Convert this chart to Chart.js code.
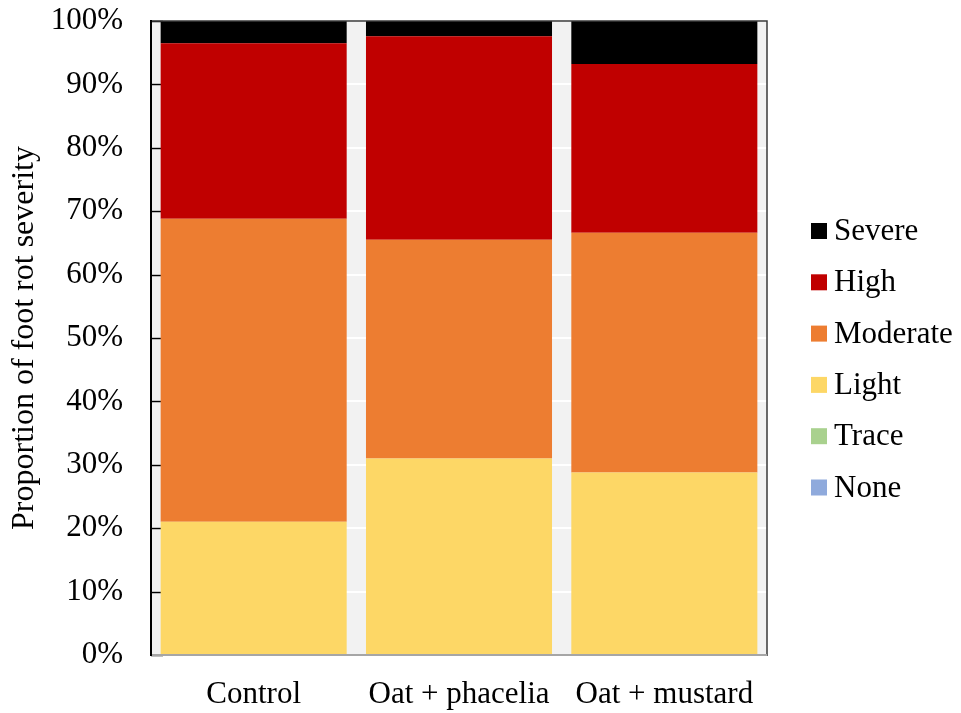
<!DOCTYPE html>
<html>
<head>
<meta charset="utf-8">
<title>Foot rot severity</title>
<script src="https://cdn.jsdelivr.net/npm/chart.js@4/dist/chart.umd.min.js"></script>
<style>
  html, body { margin: 0; padding: 0; background: #fff; }
  #wrap { width: 961px; height: 713px; }
</style>
</head>
<body>
<div id="wrap"><canvas id="severity" width="961" height="713"></canvas></div>
<script>
const treatments = ['Control', 'Oat + phacelia', 'Oat + mustard'];

// proportion (%) of plants in each severity class, per treatment
const none = [0, 0, 0];
const trace = [0, 0, 0];
const light = [21.0, 31.0, 28.8];
const moderate = [47.8, 34.5, 37.8];
const high = [27.7, 32.1, 26.6];
const severe = [3.5, 2.4, 6.8];

const yTicks = [0, 10, 20, 30, 40, 50, 60, 70, 80, 90, 100];

const FONT = "'Liberation Serif', 'Times New Roman', serif";

// grey plot background, frame and inward tick marks
const plotFrame = {
  id: 'plotFrame',
  beforeDraw(chart) {
    const { ctx, chartArea: a } = chart;
    ctx.save();
    ctx.fillStyle = '#f2f2f2';
    ctx.fillRect(a.left, a.top, a.right - a.left, a.bottom - a.top);
    ctx.restore();
  },
  beforeDatasetsDraw(chart) {
    const { ctx, chartArea: a, scales } = chart;
    ctx.save();
    ctx.strokeStyle = '#000';
    ctx.lineWidth = 1.5;
    yTicks.forEach((t) => {
      const y = Math.round(scales.y.getPixelForValue(t)) + 0.5;
      ctx.beginPath();
      ctx.moveTo(a.left, y);
      ctx.lineTo(a.left + 12, y);
      ctx.stroke();
    });
    ctx.restore();
  },
  afterDatasetsDraw(chart) {
    const { ctx, chartArea: a } = chart;
    ctx.save();
    ctx.lineWidth = 1.5;
    ctx.strokeStyle = '#3a3a3a';
    ctx.beginPath();
    ctx.moveTo(a.left, a.top);
    ctx.lineTo(a.right, a.top);
    ctx.lineTo(a.right, a.bottom + 1);
    ctx.stroke();
    ctx.strokeStyle = '#a6a6a6';
    ctx.lineWidth = 2;
    ctx.beginPath();
    ctx.moveTo(a.left, a.bottom);
    ctx.lineTo(a.right, a.bottom);
    ctx.stroke();
    ctx.strokeStyle = '#000';
    ctx.lineWidth = 2;
    ctx.beginPath();
    ctx.moveTo(a.left, a.top - 1);
    ctx.lineTo(a.left, a.bottom + 1);
    ctx.stroke();
    ctx.restore();
  }
};

// legend drawn to the right of the plot, top class first
const sideLegend = {
  id: 'sideLegend',
  afterDraw(chart) {
    const { ctx } = chart;
    const items = chart.data.datasets.slice().reverse();
    ctx.save();
    ctx.font = '31px ' + FONT;
    ctx.textBaseline = 'middle';
    ctx.fillStyle = '#000';
    items.forEach((ds, i) => {
      const cy = 231 + i * 51.3;
      ctx.fillStyle = ds.backgroundColor;
      ctx.fillRect(811, cy - 8, 16, 16);
      ctx.fillStyle = '#000';
      ctx.fillText(ds.label, 834, cy + 1);
    });
    ctx.restore();
  }
};

new Chart(document.getElementById('severity'), {
  type: 'bar',
  data: {
    labels: treatments,
    datasets: [
      { label: 'None', data: none, backgroundColor: '#8faadc' },
      { label: 'Trace', data: trace, backgroundColor: '#a9d18e' },
      { label: 'Light', data: light, backgroundColor: '#fdd766' },
      { label: 'Moderate', data: moderate, backgroundColor: '#ed7d31' },
      { label: 'High', data: high, backgroundColor: '#c00000' },
      { label: 'Severe', data: severe, backgroundColor: '#000000' }
    ]
  },
  options: {
    responsive: false,
    animation: false,
    devicePixelRatio: 1,
    categoryPercentage: 1,
    barPercentage: 0.906,
    layout: { padding: { top: 21, right: 194, left: 0, bottom: 0 } },
    plugins: {
      legend: { display: false },
      tooltip: { enabled: false }
    },
    scales: {
      x: {
        stacked: true,
        grid: { display: false },
        border: { display: false },
        ticks: { color: '#000', font: { family: FONT, size: 31 }, padding: 13, maxRotation: 0 },
        afterFit: (s) => { s.height = 58; s.paddingLeft = 0; s.paddingRight = 0; }
      },
      y: {
        stacked: true,
        min: 0,
        max: 100,
        afterBuildTicks: (s) => { s.ticks = yTicks.map((v) => ({ value: v })); },
        grid: { color: '#ffffff', lineWidth: 2, drawTicks: false },
        border: { display: false },
        ticks: {
          color: '#000',
          font: { family: FONT, size: 31 },
          padding: 28,
          callback: (v) => v + '%'
        },
        title: {
          display: true,
          text: 'Proportion of foot rot severity',
          color: '#000',
          font: { family: FONT, size: 32 },
          padding: { top: 5, bottom: 0 }
        },
        afterFit: (s) => { s.width = 151; s.paddingTop = 0; s.paddingBottom = 0; }
      }
    }
  },
  plugins: [plotFrame, sideLegend]
});
</script>
</body>
</html>
